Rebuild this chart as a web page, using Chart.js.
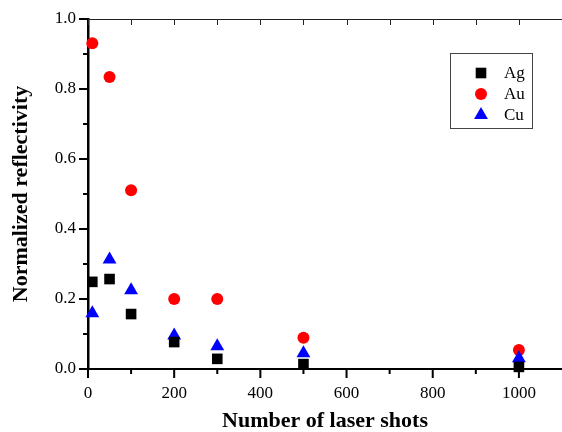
<!DOCTYPE html>
<html>
<head>
<meta charset="utf-8">
<script src="https://cdn.jsdelivr.net/npm/chart.js@4.4.0/dist/chart.umd.min.js"></script>
<style>
  html, body { margin: 0; padding: 0; background: #fff; }
</style>
</head>
<body>
<canvas id="chart" width="562" height="432"></canvas>
<script>
// Data
const shots = [10, 50, 100, 200, 300, 500, 1000];
const agValues = [0.249, 0.257, 0.157, 0.077, 0.029, 0.014, 0.006];
const auValues = [0.931, 0.834, 0.511, 0.200, 0.200, 0.089, 0.054];
const cuValues = [0.159, 0.313, 0.225, 0.096, 0.065, 0.045, 0.031];
const seriesNames = ['Ag', 'Au', 'Cu'];
const xMajorTicks = [0, 200, 400, 600, 800, 1000];
const xMinorTicks = [100, 300, 500, 700, 900];
const yMajorTicks = [0, 0.2, 0.4, 0.6, 0.8, 1.0];
const yMinorTicks = [0.1, 0.3, 0.5, 0.7, 0.9];

const serif = "'Liberation Serif', 'Times New Roman', serif";

const toPoints = vals => shots.map((x, i) => ({ x: x, y: vals[i] }));

const styles = {
    Ag: { pointStyle: 'rect', radius: 7.5, color: '#000000' },
    Au: { pointStyle: 'circle', radius: 6, color: '#ff0000' },
    Cu: { pointStyle: 'triangle', radius: 8, color: '#0000ff' }
};

function makeDataset(name, vals, order) {
    const s = styles[name];
    return {
        label: name,
        data: toPoints(vals),
        pointStyle: s.pointStyle,
        pointRadius: s.radius,
        pointHoverRadius: s.radius,
        pointBackgroundColor: s.color,
        pointBorderColor: s.color,
        pointBorderWidth: 0,
        showLine: false,
        clip: false,
        order: order
    };
}

// ticks, top frame line and framed legend
const extrasPlugin = {
    id: 'extras',
    afterDraw(chart) {
        const ctx = chart.ctx;
        const x = chart.scales.x;
        const y = chart.scales.y;
        const area = chart.chartArea;
        ctx.save();
        ctx.strokeStyle = '#000';
        ctx.lineWidth = 2;
        ctx.beginPath();
        xMajorTicks.forEach(v => {
            const px = x.getPixelForValue(v);
            ctx.moveTo(px, area.bottom);
            ctx.lineTo(px, area.bottom + 9);
        });
        xMinorTicks.forEach(v => {
            const px = x.getPixelForValue(v);
            ctx.moveTo(px, area.bottom);
            ctx.lineTo(px, area.bottom + 5);
        });
        yMajorTicks.forEach(v => {
            const py = y.getPixelForValue(v);
            ctx.moveTo(area.left, py);
            ctx.lineTo(area.left - 9, py);
        });
        yMinorTicks.forEach(v => {
            const py = y.getPixelForValue(v);
            ctx.moveTo(area.left, py);
            ctx.lineTo(area.left - 5, py);
        });
        ctx.stroke();

        // thin top line with small inward ticks
        ctx.lineWidth = 1;
        ctx.strokeStyle = '#222';
        ctx.beginPath();
        ctx.moveTo(area.left, area.top + 0.5);
        ctx.lineTo(area.right, area.top + 0.5);
        xMajorTicks.concat(xMinorTicks).forEach(v => {
            const px = Math.round(x.getPixelForValue(v)) + 0.5;
            ctx.moveTo(px, area.top);
            ctx.lineTo(px, area.top + 6);
        });
        ctx.stroke();

        // legend
        ctx.strokeStyle = '#444';
        ctx.lineWidth = 1;
        ctx.strokeRect(450.5, 53.5, 82, 75);
        ctx.font = '17px ' + serif;
        ctx.textBaseline = 'middle';
        ctx.textAlign = 'left';
        seriesNames.forEach((name, i) => {
            const s = styles[name];
            const cy = 73 + i * 21;
            ctx.fillStyle = s.color;
            ctx.strokeStyle = s.color;
            Chart.helpers.drawPoint(ctx, { pointStyle: s.pointStyle, radius: s.radius, rotation: 0, borderWidth: 0 }, 481, cy);
            ctx.fillStyle = '#000';
            ctx.fillText(name, 504, cy + 1);
        });
        ctx.restore();
    }
};

new Chart(document.getElementById('chart'), {
    type: 'scatter',
    data: {
        datasets: [
            makeDataset('Ag', agValues, 1),
            makeDataset('Au', auValues, 3),
            makeDataset('Cu', cuValues, 2)
        ]
    },
    options: {
        responsive: false,
        animation: false,
        layout: { autoPadding: false, padding: { top: 19, left: 0, right: 0, bottom: 0 } },
        plugins: {
            legend: { display: false },
            tooltip: { enabled: false }
        },
        scales: {
            x: {
                type: 'linear',
                min: 0,
                max: 1100,
                afterBuildTicks: axis => {
                    axis.ticks = xMajorTicks.map(v => ({ value: v }));
                },
                afterFit: scale => {
                    scale.height = 63;
                    scale.paddingLeft = 0;
                    scale.paddingRight = 0;
                },
                grid: { display: false, drawTicks: false },
                border: { display: true, color: '#000', width: 2 },
                ticks: {
                    padding: 14,
                    color: '#000',
                    maxRotation: 0,
                    font: { family: serif, size: 17 },
                    callback: v => String(v)
                },
                title: {
                    display: true,
                    text: 'Number of laser shots',
                    color: '#000',
                    padding: 0,
                    font: { family: serif, size: 22, weight: 'bold', lineHeight: 1 }
                }
            },
            y: {
                type: 'linear',
                min: 0,
                max: 1,
                afterBuildTicks: axis => {
                    axis.ticks = yMajorTicks.map(v => ({ value: v }));
                },
                afterFit: scale => {
                    scale.width = 88;
                    scale.paddingTop = 0;
                    scale.paddingBottom = 0;
                },
                grid: { display: false, drawTicks: false },
                border: { display: true, color: '#000', width: 2.5 },
                ticks: {
                    padding: 12,
                    color: '#000',
                    font: { family: serif, size: 17 },
                    callback: v => v.toFixed(1)
                },
                title: {
                    display: true,
                    text: 'Normalized reflectivity',
                    color: '#000',
                    padding: { top: 10, bottom: 0 },
                    font: { family: serif, size: 22, weight: 'bold', lineHeight: 1 }
                }
            }
        }
    },
    plugins: [extrasPlugin]
});
</script>
</body>
</html>
